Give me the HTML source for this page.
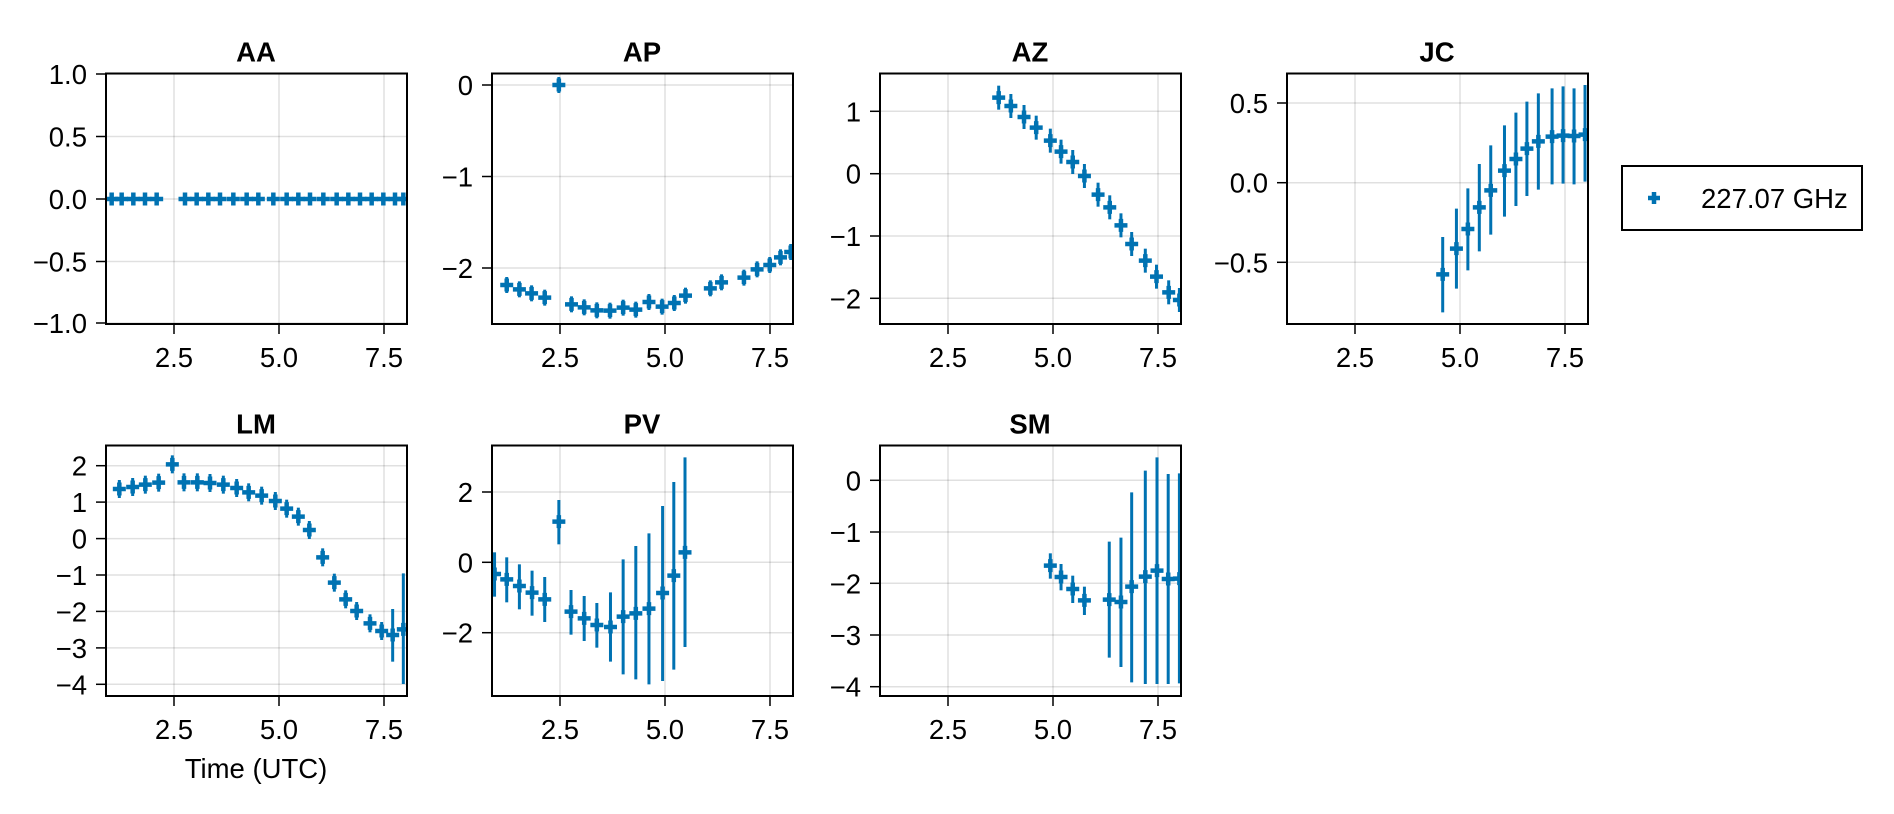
<!DOCTYPE html>
<html><head><meta charset="utf-8">
<style>
html,body{margin:0;padding:0;background:#fff;}
svg{display:block;font-family:"Liberation Sans",Arial,sans-serif;}
</style></head>
<body>
<svg id="s" width="1894" height="814" xmlns="http://www.w3.org/2000/svg"></svg>
<script>
const S=document.getElementById('s');
const NS='http://www.w3.org/2000/svg';
const FS=27.5;
function el(t,a,p){const e=document.createElementNS(NS,t);for(const k in a)e.setAttribute(k,a[k]);(p||S).appendChild(e);return e;}
function txt(x,y,s,a){const e=el('text',Object.assign({x:x,y:y,'font-size':FS,fill:'#000'},a));e.textContent=s;return e;}
const C='#0072b2';
const panels=[
 {t:'AA',L:106,T:73.5,B:324,yt:[['1.0',74],['0.5',136.5],['0.0',199],['−0.5',261.5],['−1.0',323]],
  pts:(()=>{const xs=[335,365,400,435,470,555,590,625,660,700,740,775,820,860,895,930,970,1010,1045,1080,1115,1150,1185,1210];return xs.map(x=>[x/3,199]);})()},
 {t:'AP',L:492,T:73.5,B:324,yt:[['0',85],['−1',176.5],['−2',268]],
  pts:(()=>{const xs=[137,163,188,215,244,270,296,322,349,376,402,429,456,481,504,555,578,624,651,677,699,720];
   const ys=[735,748,760,773,135,793,802,811,812,803,809,786,800,789,767,745,727,713,688,675,652,636];
   return xs.map((x,i)=>[x/2.053+440,ys[i]/3+40,ys[i]/3+40-8,ys[i]/3+40+8]);})()},
 {t:'AZ',L:880,T:73.5,B:324,yt:[['1',111.3],['0',173.7],['−1',236],['−2',298.3]],
  pts:(()=>{const xs=[1147,1172,1199,1224,1253,1275,1299,1323,1351,1375,1398,1420,1448,1471,1496,1518];
   const ys=[173,198,231,263,302,335,366,408,464,502,556,612,662,710,757,780];
   return xs.map((x,i)=>[x/2.053+440,ys[i]/3+40,ys[i]/3+40-12,ys[i]/3+40+12]);})()},
 {t:'JC',L:1287,T:73.5,B:324,yt:[['0.5',103],['0.0',182.7],['−0.5',262.3]],
  pts:(()=>{const xs=[574,604,629,654,679,709,734,758,783,813,837,861,885];
   const ys=[703,626,567,502,451,392,357,326,304,290,287,288,284];
   const tp=[591,506,445,372,316,256,218,185,160,145,139,145,135];
   const bt=[817,746,691,634,584,530,498,468,449,433,431,433,425];
   return xs.map((x,i)=>[x/2.185+1180,ys[i]/3+40,tp[i]/3+40,bt[i]/3+40]);})()},
 {t:'LM',L:106,T:445.5,B:696,yt:[['2',465.7],['1',502.1],['0',538.6],['−1',575],['−2',611.4],['−3',647.9],['−4',684.3]],xl:true,
  pts:(()=>{const xs=[358,398,436,476,517,552,592,630,670,710,746,785,826,860,895,928,968,1003,1037,1070,1110,1145,1178,1210];
   const ys=[267,261,254,248,193,247,247,249,254,264,277,287,303,326,350,390,472,548,598,633,670,693,705,688];
   return xs.map((x,i)=>{const y=ys[i]/3+400;let a=y-9,b=y+9;if(i==22){a=627/3+400;b=785/3+400;}if(i==23){a=520/3+400;b=852/3+400;}return [x/3,y,a,b];});})()},
 {t:'PV',L:492,T:445.5,B:696,yt:[['2',492],['0',562.3],['−2',632.7]],
  pts:(()=>{const xs=[112,137,163,189,215,244,269,296,322,350,376,402,429,457,480,503];
   const ys=[462,478,498,518,538,305,575,595,615,621,590,580,566,519,467,397];
   const tp=[397,412,433,452,471,240,510,528,549,517,418,378,340,258,186,112];
   const bt=[530,547,568,587,606,373,644,663,683,725,763,778,793,783,749,681];
   return xs.map((x,i)=>[x/2.053+440,ys[i]/3+420,tp[i]/3+420,bt[i]/3+420]);})()},
 {t:'SM',L:880,T:445.5,B:696,yt:[['0',480.3],['−1',532],['−2',583.3],['−3',635],['−4',686.7]],
  pts:(()=>{const xs=[1253,1275,1299,1323,1374,1398,1420,1448,1472,1495,1518];
   const ys=[437,471,507,541,539,546,500,470,452,477,476];
   const tp=[400,432,467,500,365,353,217,152,112,162,160];
   const bt=[476,511,549,585,713,741,787,792,792,792,790];
   return xs.map((x,i)=>[x/2.053+440,ys[i]/3+420,tp[i]/3+420,bt[i]/3+420]);})()}
];
panels.forEach((p,pi)=>{
 const L=p.L,R=p.L+301,T=p.T,B=p.B;
 const xt=[['2.5',L+68],['5.0',L+173],['7.5',L+278]];
 xt.forEach(t=>el('line',{x1:t[1],x2:t[1],y1:T,y2:B,stroke:'#000','stroke-opacity':0.12,'stroke-width':1.5}));
 p.yt.forEach(t=>el('line',{x1:L,x2:R,y1:t[1],y2:t[1],stroke:'#000','stroke-opacity':0.12,'stroke-width':1.5}));
 const cp=el('clipPath',{id:'c'+pi});el('rect',{x:L,y:T,width:R-L,height:B-T},cp);
 const g=el('g',{'clip-path':'url(#c'+pi+')'});
 p.pts.forEach(q=>{
  if(q.length>2) el('line',{x1:q[0],x2:q[0],y1:q[2],y2:q[3],stroke:C,'stroke-width':3},g);
  el('path',{d:`M${q[0]-6.5},${q[1]}H${q[0]+6.5}M${q[0]},${q[1]-6.5}V${q[1]+6.5}`,stroke:C,'stroke-width':4.5,fill:'none'},g);
 });
 el('rect',{x:L,y:T,width:R-L,height:B-T,fill:'none',stroke:'#000','stroke-width':2});
 xt.forEach(t=>{el('line',{x1:t[1],x2:t[1],y1:B,y2:B+10,stroke:'#000','stroke-width':1.5});
   txt(t[1],B+43,t[0],{'text-anchor':'middle'});});
 p.yt.forEach(t=>{el('line',{x1:L-10,x2:L,y1:t[1],y2:t[1],stroke:'#000','stroke-width':1.5});
   txt(L-19,t[1]+10,t[0],{'text-anchor':'end'});});
 txt(L+150,T-12,p.t,{'text-anchor':'middle','font-weight':'bold'});
 if(p.xl) txt(L+150,778,'Time (UTC)',{'text-anchor':'middle'});
});
el('rect',{x:1622,y:166,width:240,height:64,fill:'#fff',stroke:'#000','stroke-width':2});
el('path',{d:'M1648,198H1660M1654,192V204',stroke:C,'stroke-width':4.5});
txt(1701,208,'227.07 GHz');
</script>
</body></html>
